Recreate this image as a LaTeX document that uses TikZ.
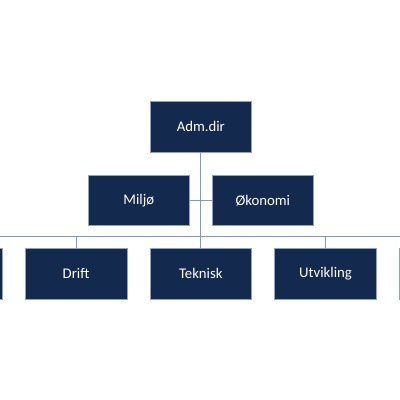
\documentclass[tikz,border=0pt]{standalone}
\usepackage{fontspec}
\setmainfont{Carlito}
\usetikzlibrary{positioning}
\definecolor{unitfill}{HTML}{13294D}
\definecolor{unitborder}{HTML}{8FA2C6}
\definecolor{orgline}{HTML}{7F97CC}

\begin{document}
\begin{tikzpicture}[
    node distance=0.565cm,
    unit/.style={
        draw=unitborder,
        line width=0.4pt,
        fill=unitfill,
        text=white,
        minimum width=2.54cm,
        minimum height=1.26cm,
        inner sep=0pt,
        font=\fontsize{10.5}{12}\selectfont
    },
    orglink/.style={
        orgline,
        line width=0.6pt
    }
]
    \clip (0,0) rectangle (10,10);
    \fill[white] (0,0) rectangle (10,10);

    \node[unit] (adm) at (5.02,6.83) {Adm.dir};
    \node[unit, below=of adm, xshift=-1.55cm] (miljo) {Miljø};
    \node[unit, below=of adm, xshift=1.55cm] (okonomi) {Økonomi};

    \node[unit, below=of miljo, xshift=1.55cm] (teknisk) {Teknisk};
    \node[unit, left=of teknisk] (drift) {Drift};
    \node[unit, right=of teknisk] (utvikling) {Utvikling};
    \node[unit, left=of drift] (venstre) {};
    \node[unit, right=of utvikling] (hoyre) {};

    % linjer
    \draw[orglink] (adm.south) -- (teknisk.north);
    \draw[orglink] (miljo.east) -- (miljo.east -| adm.south);
    \draw[orglink] (okonomi.west) -- (okonomi.west -| adm.south);
    \draw[orglink] (venstre.north) -- ++(0,0.3) -| (hoyre.north);
    \draw[orglink] (drift.north) -- ++(0,0.3);
    \draw[orglink] (utvikling.north) -- ++(0,0.3);
\end{tikzpicture}
\end{document}
